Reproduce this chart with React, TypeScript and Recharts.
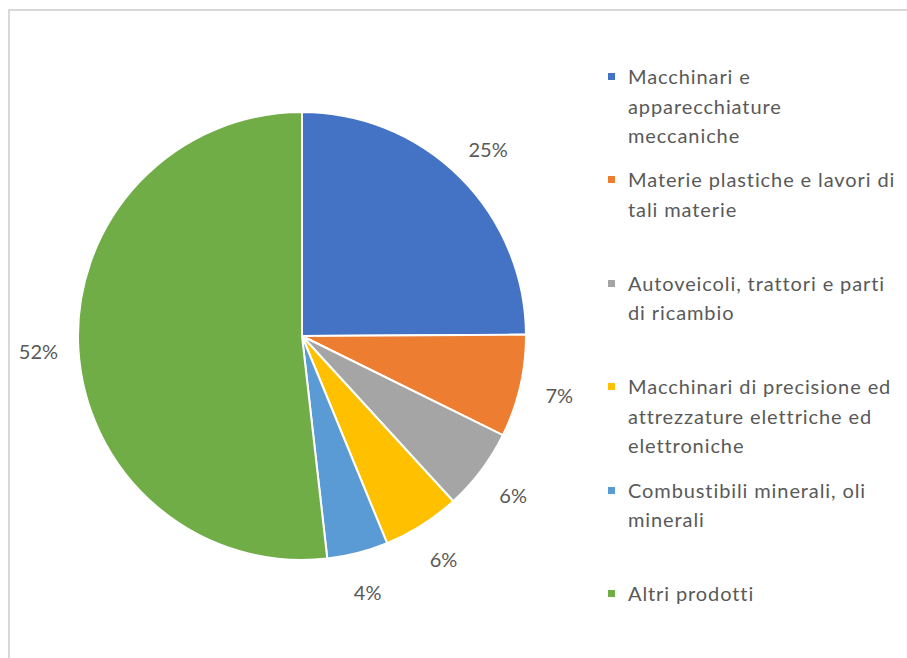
import { PieChart, Pie, Cell, Legend } from "recharts";

const categories = [
  "Macchinari e\napparecchiature\nmeccaniche",
  "Materie plastiche e lavori di\ntali materie",
  "Autoveicoli, trattori e parti\ndi ricambio",
  "Macchinari di precisione ed\nattrezzature elettriche ed\nelettroniche",
  "Combustibili minerali, oli\nminerali",
  "Altri prodotti",
];
const shares = [24.9, 7.4, 5.9, 5.6, 4.4, 51.8];
const colors = ["#4472C4", "#ED7D31", "#A5A5A5", "#FFC000", "#5B9BD5", "#70AD47"];

const data = categories.map((name, i) => ({ name, value: shares[i] }));

const FONT = "Lato, 'Open Sans', sans-serif";
const RAD = Math.PI / 180;

function renderLabel(props: any) {
  const { cx, cy, midAngle, outerRadius, value } = props;
  const r = outerRadius + 40;
  const x = cx + r * Math.cos(-midAngle * RAD);
  const y = cy + r * Math.sin(-midAngle * RAD);
  return (
    <text
      x={x}
      y={y}
      fill="#595959"
      fontSize={20}
      fontFamily={FONT}
      textAnchor="middle"
      dominantBaseline="central"
    >
      {`${Math.round(value)}%`}
    </text>
  );
}

// keep the legend in the data order (recharts sorts the payload by name)
function LegendBox() {
  return (
    <div style={{ fontFamily: FONT, fontSize: 20, letterSpacing: 0.9, color: "#595959" }}>
      {categories.map((name, i) => (
        <div key={i} style={{ position: "relative", height: 103.4, paddingLeft: 20 }}>
          <span
            style={{
              position: "absolute",
              left: 0,
              top: 11,
              width: 7,
              height: 7,
              background: colors[i],
            }}
          />
          <div style={{ whiteSpace: "pre-line", lineHeight: "29.5px" }}>{name}</div>
        </div>
      ))}
    </div>
  );
}

export default function App() {
  return (
    <div
      style={{
        position: "fixed",
        left: 0,
        top: 0,
        width: 907,
        height: 658,
        overflow: "hidden",
        background: "#fff",
      }}
    >
      <div
        style={{
          position: "absolute",
          left: 8,
          top: 9,
          width: 1000,
          height: 800,
          borderTop: "2px solid #d9d9d9",
          borderLeft: "2px solid #d9d9d9",
        }}
      />
      <div style={{ position: "absolute", left: 0, top: 0 }}>
        <PieChart width={907} height={658} margin={{ top: 0, right: 0, bottom: 0, left: 0 }}>
          <Pie
            data={data}
            dataKey="value"
            nameKey="name"
            cx={302}
            cy={336}
            outerRadius={224}
            startAngle={90}
            endAngle={-270}
            stroke="#fff"
            strokeWidth={2}
            label={renderLabel}
            labelLine={false}
            isAnimationActive={false}
          >
            {data.map((_, i) => (
              <Cell key={i} fill={colors[i]} />
            ))}
          </Pie>
          <Legend
            layout="vertical"
            align="right"
            verticalAlign="top"
            content={<LegendBox />}
            wrapperStyle={{ position: "absolute", left: 608, top: 62, width: 299 }}
          />
        </PieChart>
      </div>
    </div>
  );
}
